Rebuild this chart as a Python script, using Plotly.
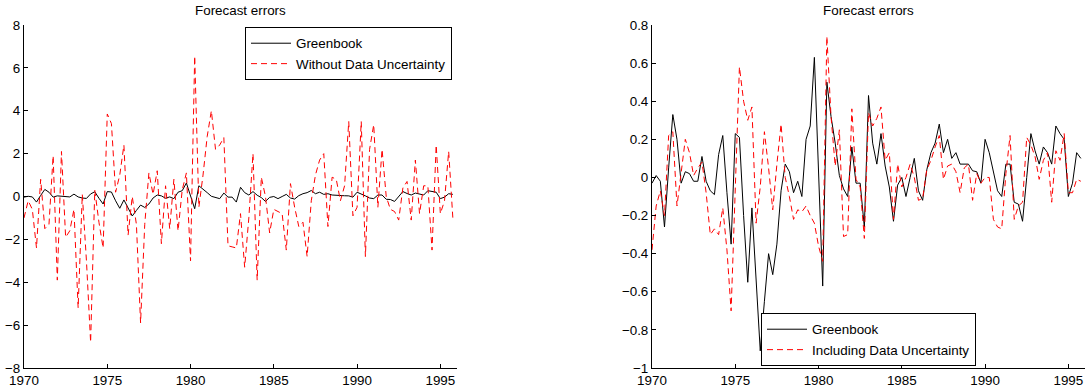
import plotly.graph_objects as go

# Quarterly observations 1970Q1 .. 1995Q4
n_quarters = 104
quarters = [1970 + q / 4 for q in range(n_quarters)]

greenbook = [
    -0.03, 0.01, -0.02, -0.26, 0.05, 0.33, 0.20, -0.03, 0.03, 0.02,
    -0.02, -0.02, 0.11, -0.02, -0.07, -0.09, 0.12, 0.22, -0.08, -0.35,
    0.23, 0.21, -0.20, -0.55, -0.16, -0.53, -0.91, -0.65, -0.40, -0.51,
    -0.35, -0.07, 0.07, 0.03, -0.08, -0.02, -0.10, 0.20, 0.27, 0.63,
    0.03, -0.57, 0.50, 0.32, 0.18, 0.01, -0.06, -0.10, 0.16, -0.03,
    -0.03, -0.26, 0.43, 0.18, 0.07, 0.23, 0.06, -0.05, -0.23, -0.04,
    0.00, -0.10, 0.00, 0.10, -0.07, -0.12, 0.04, 0.13, 0.18, 0.28,
    0.13, 0.20, 0.10, 0.13, 0.07, 0.07, 0.07, 0.035, 0.03, -0.03,
    0.20, 0.13, 0.03, -0.07, -0.10, 0.07, 0.07, -0.13, -0.14, -0.23,
    0.00, 0.23, 0.14, 0.07, 0.16, 0.13, 0.07, 0.27, 0.23, 0.20,
    -0.10, -0.03, 0.13, 0.10,
]

without_data_uncertainty = [
    -1.0, -0.2, -0.6, -2.4, 0.8, -1.5, -1.3, 1.9, -3.9, 2.1,
    -1.9, -1.6, -0.6, -5.2, 0.1, -3.0, -6.8, 0.3, -1.2, -2.4,
    3.85, 3.4, 0.2, 1.0, 2.4, -1.8, 0.0, -1.3, -5.9, -1.3,
    1.1, 0.1, 1.2, -2.2, 0.5, -1.5, 0.8, -1.6, 0.3, 1.1,
    -3.0, 6.55, -0.5, 1.0, 2.8, 4.0, 2.2, 2.4, 2.75, -2.3,
    -2.35, -2.4, -0.8, -3.3, -1.0, 2.0, -3.9, 0.9, 0.0, -1.7,
    -0.6, -0.7, -0.8, -2.5, 0.6, -0.5, -1.4, -1.2, -2.8, -0.2,
    1.0, 1.7, 2.0, -1.4, 0.9, 0.8, -0.2, 0.5, 3.5, -0.9,
    -0.5, 3.5, -2.8, 2.2, 3.35, -0.5, 2.2, 0.0, -0.6, -0.7,
    -1.1, 0.4, 0.7, -1.1, 1.7, -0.8, 0.5, 0.5, -2.5, 2.4,
    -0.8, -0.2, 2.1, -1.0,
]

including_data_uncertainty = [
    -0.38, -0.15, -0.07, -0.20, 0.22, 0.24, -0.15, 0.02, 0.20, 0.13,
    0.01, 0.05, 0.08, -0.08, -0.30, -0.27, -0.30, -0.16, -0.38, -0.70,
    -0.10, 0.58, 0.40, 0.30, 0.37, -0.24, -0.05, 0.24, 0.05, -0.17,
    0.07, 0.28, 0.00, -0.10, -0.22, -0.17, -0.18, -0.15, -0.20, -0.24,
    -0.36, -0.44, 0.74, 0.32, 0.06, 0.25, -0.31, -0.30, 0.36, -0.01,
    -0.05, -0.32, 0.34, 0.27, 0.31, 0.37, 0.09, 0.13, -0.22, 0.07,
    -0.05, 0.00, 0.07, 0.00, -0.12, -0.11, 0.04, 0.09, 0.16, 0.22,
    -0.01, 0.06, 0.07, 0.03, -0.08, 0.05, 0.07, -0.12, 0.02, -0.03,
    0.00, 0.00, -0.22, -0.26, -0.27, 0.02, 0.22, -0.22, -0.15, -0.13,
    0.21, 0.17, 0.11, -0.01, 0.09, 0.13, -0.13, 0.14, 0.09, 0.23,
    -0.08, -0.08, -0.01, -0.02,
]

x_ticks = [1970, 1975, 1980, 1985, 1990, 1995]
left_y_ticks = [-8, -6, -4, -2, 0, 2, 4, 6, 8]
right_y_ticks = [-1, -0.8, -0.6, -0.4, -0.2, 0, 0.2, 0.4, 0.6, 0.8]


def fmt(v):
    s = ("%g" % v)
    return s.replace("-", "\u2212")


W, H = 1092, 389
FONT = "Liberation Sans, Arial, Helvetica, sans-serif"
FS = 13.4

fig = go.Figure()

fig.add_trace(go.Scatter(x=quarters, y=greenbook, mode="lines", name="Greenbook",
                         line=dict(color="black", width=1), xaxis="x", yaxis="y",
                         legend="legend"))
fig.add_trace(go.Scatter(x=quarters, y=without_data_uncertainty, mode="lines",
                         name="Without Data Uncertainty",
                         line=dict(color="#ff0000", width=1, dash="6px,4px"),
                         xaxis="x", yaxis="y", legend="legend"))
fig.add_trace(go.Scatter(x=quarters, y=greenbook, mode="lines", name="Greenbook",
                         line=dict(color="black", width=1), xaxis="x2", yaxis="y2",
                         legend="legend2"))
fig.add_trace(go.Scatter(x=quarters, y=including_data_uncertainty, mode="lines",
                         name="Including Data Uncertainty",
                         line=dict(color="#ff0000", width=1, dash="6px,4px"),
                         xaxis="x2", yaxis="y2", legend="legend2"))

left_dom = [24 / W, 457 / W]
right_dom = [652 / W, 1085 / W]
y_dom = [(H - 368) / H, (H - 25) / H]

axis_common = dict(showline=True, linecolor="black", linewidth=1, mirror=False,
                   showgrid=False, zeroline=False, ticks="inside", ticklen=4,
                   tickcolor="black", tickwidth=1, automargin=False,
                   tickfont=dict(family=FONT, size=FS, color="black"))

fig.update_layout(
    width=W, height=H,
    margin=dict(l=0, r=0, t=0, b=0, autoexpand=False),
    paper_bgcolor="white", plot_bgcolor="white",
    font=dict(family=FONT, size=FS, color="black"),
    xaxis=dict(domain=left_dom, range=[1970, 1996], tickvals=x_ticks,
               ticktext=[str(t) for t in x_ticks], anchor="y", **axis_common),
    yaxis=dict(domain=y_dom, range=[-8, 8], tickvals=left_y_ticks,
               ticktext=[fmt(t) for t in left_y_ticks], anchor="x", **axis_common),
    xaxis2=dict(domain=right_dom, range=[1970, 1996], tickvals=x_ticks,
                ticktext=[str(t) for t in x_ticks], anchor="y2", **axis_common),
    yaxis2=dict(domain=y_dom, range=[-1, 0.8], tickvals=right_y_ticks,
                ticktext=[fmt(t) for t in right_y_ticks], anchor="x2", **axis_common),
    legend=dict(x=452 / W, xanchor="right", y=(H - 27) / H, yanchor="top",
                bgcolor="white", bordercolor="black", borderwidth=1,
                font=dict(family=FONT, size=FS, color="black"),
                itemwidth=40, tracegroupgap=0),
    legend2=dict(x=976 / W, xanchor="right", y=(H - 366) / H, yanchor="bottom",
                 bgcolor="white", bordercolor="black", borderwidth=1,
                 font=dict(family=FONT, size=FS, color="black"),
                 itemwidth=40, tracegroupgap=0),
    annotations=[
        dict(text="Forecast errors", x=(left_dom[0] + left_dom[1]) / 2, y=(H - 10) / H,
             xref="paper", yref="paper", xanchor="center", yanchor="middle",
             showarrow=False, font=dict(family=FONT, size=FS, color="black")),
        dict(text="Forecast errors", x=(right_dom[0] + right_dom[1]) / 2, y=(H - 10) / H,
             xref="paper", yref="paper", xanchor="center", yanchor="middle",
             showarrow=False, font=dict(family=FONT, size=FS, color="black")),
    ],
)

fig.write_html("out.html")
